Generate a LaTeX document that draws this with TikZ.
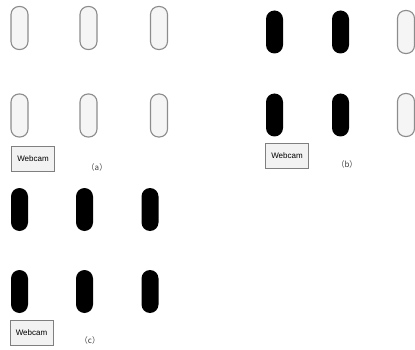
\documentclass[tikz,border=0pt]{standalone}
\usepackage{fontspec}
\setmainfont{Liberation Sans}
\newfontfamily\cjkfont{Noto Sans CJK SC}
\definecolor{capfill}{HTML}{F5F5F5}
\definecolor{capline}{HTML}{8C8C8C}
\definecolor{boxfill}{HTML}{F2F2F2}
\definecolor{boxline}{HTML}{7F7F7F}
\begin{document}
\begin{tikzpicture}[x=1pt,y=-1pt,
  offcap/.style={draw=capline,line width=1.1pt,fill=capfill,rounded corners=8pt,minimum width=17pt,minimum height=43pt,inner sep=0pt},
  oncap/.style={fill=black,rounded corners=8.5pt,minimum width=17pt,minimum height=43pt,inner sep=0pt},
  cam/.style={draw=boxline,line width=0.8pt,fill=boxfill,minimum width=43pt,minimum height=25pt,inner sep=0pt,font=\fontsize{8pt}{9pt}\selectfont},
  lab/.style={font=\cjkfont\fontsize{8pt}{9pt}\selectfont,text=black!75,inner sep=0pt}]
\useasboundingbox (0,0) rectangle (415,350);
% panel (a)
\node[offcap] (a1) at (19.5,28) {};
\node[offcap] (a2) at (88.5,28) {};
\node[offcap] (a3) at (159,28) {};
\node[offcap] (a4) at (19.5,115.5) {};
\node[offcap] (a5) at (88.5,115.5) {};
\node[offcap] (a6) at (159,115.5) {};
\node[cam] (acam) at (33,159) {Webcam};
\node[lab] (alab) at (97,167) {（a）};
% panel (b)
\node[oncap] (b1) at (274.5,32) {};
\node[oncap] (b2) at (340.5,32) {};
\node[offcap] (b3) at (406,32) {};
\node[oncap] (b4) at (274.5,115) {};
\node[oncap] (b5) at (340.5,115) {};
\node[offcap] (b6) at (406,115) {};
\node[cam] (bcam) at (287,155.5) {Webcam};
\node[lab] (blab) at (347,164) {（b）};
% panel (c)
\node[oncap] (c1) at (19.5,209.5) {};
\node[oncap] (c2) at (84.5,209.5) {};
\node[oncap] (c3) at (150,209.5) {};
\node[oncap] (c4) at (19.5,291.5) {};
\node[oncap] (c5) at (84.5,291.5) {};
\node[oncap] (c6) at (150,291.5) {};
\node[cam] (ccam) at (31.5,333) {Webcam};
\node[lab] (clab) at (90,340) {（c）};
\end{tikzpicture}
\end{document}
